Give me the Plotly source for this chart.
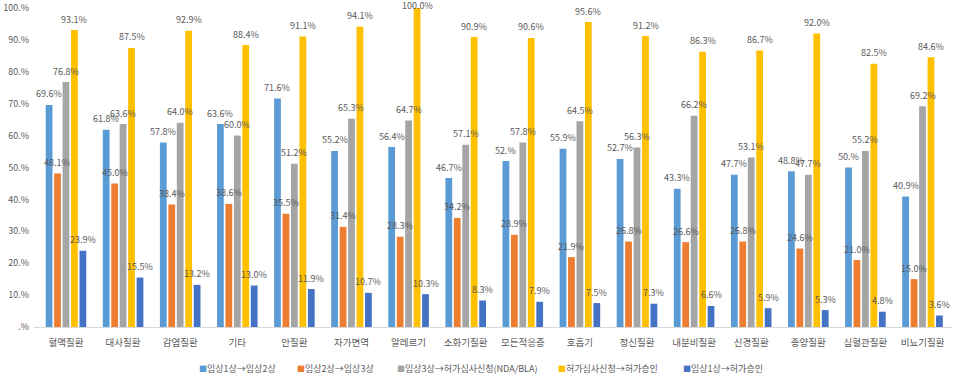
import plotly.graph_objects as go

categories = ["혈액질환", "대사질환", "감염질환", "기타", "안질환", "자가면역", "알레르기", "소화기질환",
              "모든적응증", "호흡기", "정신질환", "내분비질환", "신경질환", "종양질환", "심혈관질환", "비뇨기질환"]

series_names = ["임상1상→임상2상", "임상2상→임상3상", "임상3상→허가심사신청(NDA/BLA)",
                "허가심사신청→허가승인", "임상1상→허가승인"]

p1_p2 = [69.6, 61.8, 57.8, 63.6, 71.6, 55.2, 56.4, 46.7, 52, 55.9, 52.7, 43.3, 47.7, 48.8, 50, 40.9]
p2_p3 = [48.1, 45.0, 38.4, 38.6, 35.5, 31.4, 28.3, 34.2, 28.9, 21.9, 26.8, 26.6, 26.8, 24.6, 21.0, 15.0]
p3_nda = [76.8, 63.6, 64.0, 60.0, 51.2, 65.3, 64.7, 57.1, 57.8, 64.5, 56.3, 66.2, 53.1, 47.7, 55.2, 69.2]
nda_appr = [93.1, 87.5, 92.9, 88.4, 91.1, 94.1, 100.0, 90.9, 90.6, 95.6, 91.2, 86.3, 86.7, 92.0, 82.5, 84.6]
p1_appr = [23.9, 15.5, 13.2, 13.0, 11.9, 10.7, 10.3, 8.3, 7.9, 7.5, 7.3, 6.6, 5.9, 5.3, 4.8, 3.6]

y_ticks = [0, 10, 20, 30, 40, 50, 60, 70, 80, 90, 100]
y_ticklabels = [".%", "10.%", "20.%", "30.%", "40.%", "50.%", "60.%", "70.%", "80.%", "90.%", "100.%"]

colors = ["#5B9BD5", "#ED7D31", "#A5A5A5", "#FFC000", "#4472C4"]

FONT = "Noto Sans CJK KR"
GRAY = "#595959"

W, H = 960, 377
ML, MR, MT, MB = 34, 8, 8, 50
plot_w = W - ML - MR
plot_h = H - MT - MB


def fmt_short(v):
    return f"{int(v)}.%" if v == int(v) else f"{v:.1f}%"


def fmt_full(v):
    return f"{v:.1f}%"


all_series = [p1_p2, p2_p3, p3_nda, nda_appr, p1_appr]
formatters = [fmt_short, fmt_full, fmt_full, fmt_full, fmt_full]

BARGAP = 0.26
GROUPGAP = 0.2
n = len(all_series)
cat_w = plot_w / len(categories)
slot = cat_w * (1 - BARGAP) / n

fig = go.Figure()
annotations = []
for i, (name, vals, col, f) in enumerate(zip(series_names, all_series, colors, formatters)):
    fig.add_trace(go.Bar(
        x=categories, y=vals, name=name,
        marker=dict(color=col, line=dict(width=0)),
        showlegend=False,
        hoverinfo="x+y+name",
    ))
    xs = (i - (n - 1) / 2) * slot
    for c, v in zip(categories, vals):
        annotations.append(dict(
            x=c, y=min(v, 97.2), xref="x", yref="y",
            text=f(v), showarrow=False,
            xanchor="center", yanchor="middle",
            xshift=xs, yshift=11,
            font=dict(size=9, color=GRAY, family=FONT),
        ))

# custom legend (small square markers followed by text), matching the reference layout
legend_px = [197, 295, 395, 556, 681]
legend_py = 368
for name, col, lx in zip(series_names, colors, legend_px):
    annotations.append(dict(
        x=(lx - ML) / plot_w, y=(H - MB - legend_py) / plot_h, xref="paper", yref="paper",
        text=f'<span style="color:{col};font-size:8px">■</span>{name}',
        showarrow=False, xanchor="left", yanchor="middle",
        font=dict(size=9, color=GRAY, family=FONT),
    ))

fig.update_layout(
    width=W, height=H,
    margin=dict(l=ML, r=MR, t=MT, b=MB, autoexpand=False),
    barmode="group",
    bargap=BARGAP,
    bargroupgap=GROUPGAP,
    paper_bgcolor="white",
    plot_bgcolor="white",
    font=dict(family=FONT, color=GRAY, size=9),
    showlegend=False,
    annotations=annotations,
    xaxis=dict(showgrid=False, showline=True, linecolor="#D9D9D9", linewidth=1,
               ticks="", automargin=False, ticklabelstandoff=7,
               tickfont=dict(size=9.5, color=GRAY, family=FONT)),
    yaxis=dict(range=[0, 100], tickvals=y_ticks, ticktext=y_ticklabels,
               showgrid=False, zeroline=False, showline=False, ticks="", automargin=False,
               ticklabelstandoff=4,
               tickfont=dict(size=9, color=GRAY, family=FONT)),
)

fig.write_html("out.html", config={"displayModeBar": False},
               post_script="document.body.style.margin='0';document.body.style.overflow='hidden';")
